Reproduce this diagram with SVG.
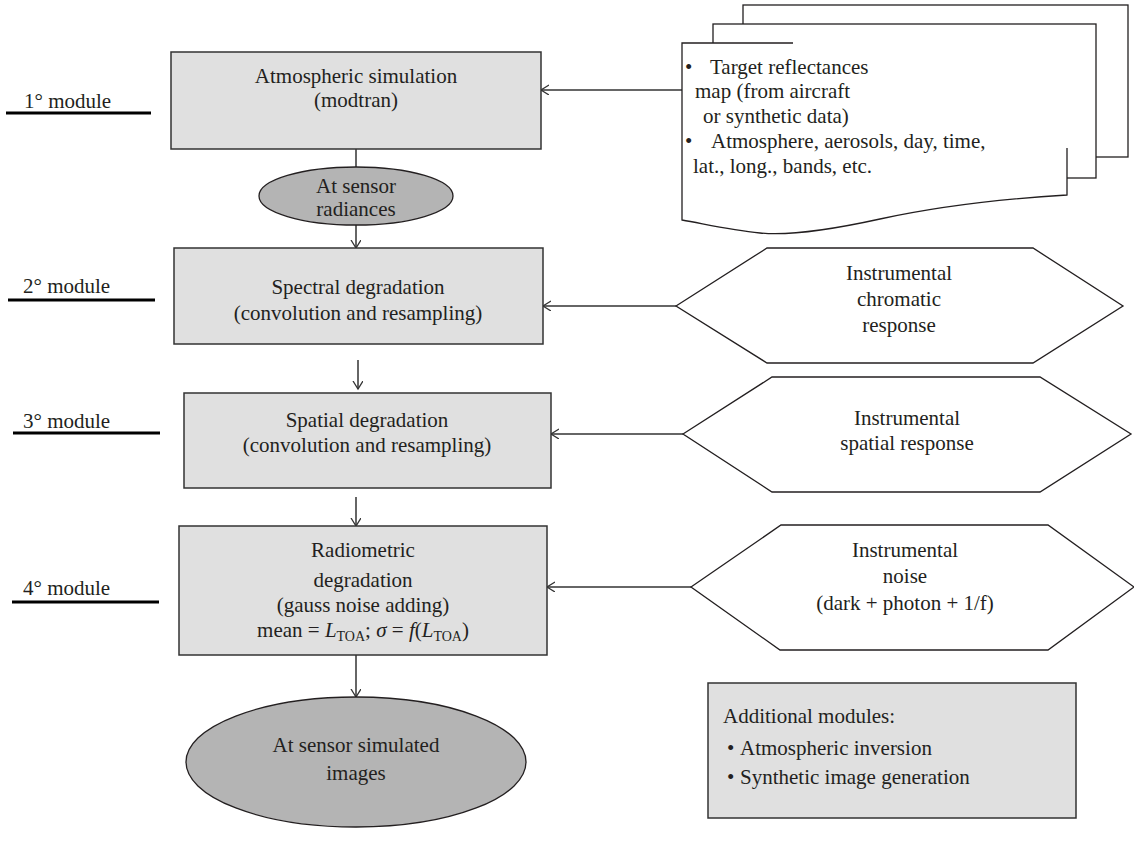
<svg xmlns="http://www.w3.org/2000/svg" width="1134" height="844" viewBox="0 0 1134 844">
<defs>
<style>
text{font-family:"Liberation Serif","Times New Roman",serif;font-size:21px;fill:#231f20}
.c{text-anchor:middle}
.box{fill:#e0e0e0;stroke:#333;stroke-width:1.5}
.ell{fill:#b4b4b4;stroke:#231f20;stroke-width:1.3}
.hex{fill:#fff;stroke:#231f20;stroke-width:1.3}
.doc{fill:#fff;stroke:none}
.docl{fill:none;stroke:#231f20;stroke-width:1.3}
.ln{fill:none;stroke:#333;stroke-width:1.5}
.ul{stroke:#000;stroke-width:3}
.it{font-style:italic}
.sub{font-size:14px}
</style>
<marker id="ah" markerUnits="userSpaceOnUse" markerWidth="12" markerHeight="12" refX="8" refY="5" orient="auto">
<path d="M0,0 L8,5 L0,10" fill="none" stroke="#333" stroke-width="1.3"/>
</marker>
</defs>
<rect width="1134" height="844" fill="#fff"/>

<g id="labels">
<text x="24" y="108" font-size="20">1° module</text>
<line class="ul" x1="6" y1="113" x2="151" y2="113"/>
<text x="23" y="293" font-size="20">2° module</text>
<line class="ul" x1="8" y1="300" x2="155" y2="300"/>
<text x="23" y="428" font-size="20">3° module</text>
<line class="ul" x1="13" y1="433" x2="160" y2="433"/>
<text x="23" y="595" font-size="20">4° module</text>
<line class="ul" x1="12" y1="602" x2="159" y2="602"/>
</g>

<g id="connectors">
<line class="ln" x1="682" y1="90" x2="541" y2="90" marker-end="url(#ah)"/>
<line class="ln" x1="356" y1="149" x2="356" y2="167"/>
<line class="ln" x1="356" y1="225" x2="356" y2="248" marker-end="url(#ah)"/>
<line class="ln" x1="358" y1="360" x2="358" y2="389" marker-end="url(#ah)"/>
<line class="ln" x1="676" y1="306" x2="543" y2="306" marker-end="url(#ah)"/>
<line class="ln" x1="683" y1="434" x2="551" y2="434" marker-end="url(#ah)"/>
<line class="ln" x1="356" y1="497" x2="356" y2="526" marker-end="url(#ah)"/>
<line class="ln" x1="691" y1="587" x2="547" y2="587" marker-end="url(#ah)"/>
<line class="ln" x1="356" y1="655" x2="356" y2="697" marker-end="url(#ah)"/>
</g>

<g id="atmo">
<rect class="box" x="171" y="52" width="370" height="97"/>
<text class="c" x="356" y="83">Atmospheric simulation</text>
<text class="c" x="356" y="107">(modtran)</text>
</g>

<g id="radiances">
<ellipse class="ell" cx="356" cy="196" rx="97" ry="29"/>
<text class="c" x="356" y="193">At sensor</text>
<text class="c" x="356" y="216">radiances</text>
</g>

<g id="spectral">
<rect class="box" x="174" y="248" width="369" height="96"/>
<text class="c" x="358" y="294">Spectral degradation</text>
<text class="c" x="358" y="320">(convolution and resampling)</text>
</g>

<g id="spatial">
<rect class="box" x="184" y="393" width="367" height="95"/>
<text class="c" x="367" y="427">Spatial degradation</text>
<text class="c" x="367" y="452">(convolution and resampling)</text>
</g>

<g id="radiometric">
<rect class="box" x="179" y="526" width="368" height="129"/>
<text class="c" x="363" y="557">Radiometric</text>
<text class="c" x="363" y="587">degradation</text>
<text class="c" x="363" y="612">(gauss noise adding)</text>
<text class="c" x="363" y="637">mean = <tspan class="it">L</tspan><tspan class="sub" dy="4">TOA</tspan><tspan dy="-4">; </tspan><tspan class="it">σ</tspan> =  <tspan class="it">f</tspan>(<tspan class="it">L</tspan><tspan class="sub" dy="4">TOA</tspan><tspan dy="-4">)</tspan></text>
</g>

<g id="images">
<ellipse class="ell" cx="356" cy="762" rx="170" ry="65"/>
<text class="c" x="356" y="752">At sensor simulated</text>
<text class="c" x="356" y="780">images</text>
</g>

<g id="inputs">
<rect x="743" y="5" width="385" height="152" fill="#fff" stroke="#231f20" stroke-width="1.3"/>
<rect x="713" y="24" width="383" height="154" fill="#fff" stroke="#231f20" stroke-width="1.3"/>
<path class="doc" d="M682,43 L1067,43 L1067,195 C1000,199 940,206 880,219 C830,230 790,236 760,233 C730,230 705,224 682,220 Z"/>
<path class="docl" d="M793,43 L682,43 L682,220 C705,224 730,230 760,233 C790,236 830,230 880,219 C940,206 1000,199 1067,195 L1067,148"/>
<text x="685" y="74">• <tspan x="710">Target reflectances</tspan></text>
<text x="695" y="98">map (from aircraft</text>
<text x="703" y="123">or synthetic data)</text>
<text x="685" y="148">• <tspan x="711">Atmosphere, aerosols, day, time,</tspan></text>
<text x="693" y="173">lat., long., bands, etc.</text>
</g>

<g id="chromatic">
<polygon class="hex" points="676,306 767,248 1033,248 1123,306 1033,363 767,363"/>
<text class="c" x="899" y="280">Instrumental</text>
<text class="c" x="899" y="306">chromatic</text>
<text class="c" x="899" y="332">response</text>
</g>

<g id="spatialresp">
<polygon class="hex" points="683,434 772,377 1040,377 1131,434 1040,492 772,492"/>
<text class="c" x="907" y="425">Instrumental</text>
<text class="c" x="907" y="450">spatial response</text>
</g>

<g id="noise">
<polygon class="hex" points="691,587 781,525 1048,525 1134,587 1048,650 780,650"/>
<text class="c" x="905" y="557">Instrumental</text>
<text class="c" x="905" y="583">noise</text>
<text class="c" x="905" y="610">(dark + photon + 1/f)</text>
</g>

<g id="additional">
<rect class="box" x="708" y="683" width="368" height="135"/>
<text x="723" y="723">Additional modules:</text>
<text x="727" y="755">• <tspan x="740">Atmospheric inversion</tspan></text>
<text x="727" y="784">• <tspan x="740">Synthetic image generation</tspan></text>
</g>
</svg>
